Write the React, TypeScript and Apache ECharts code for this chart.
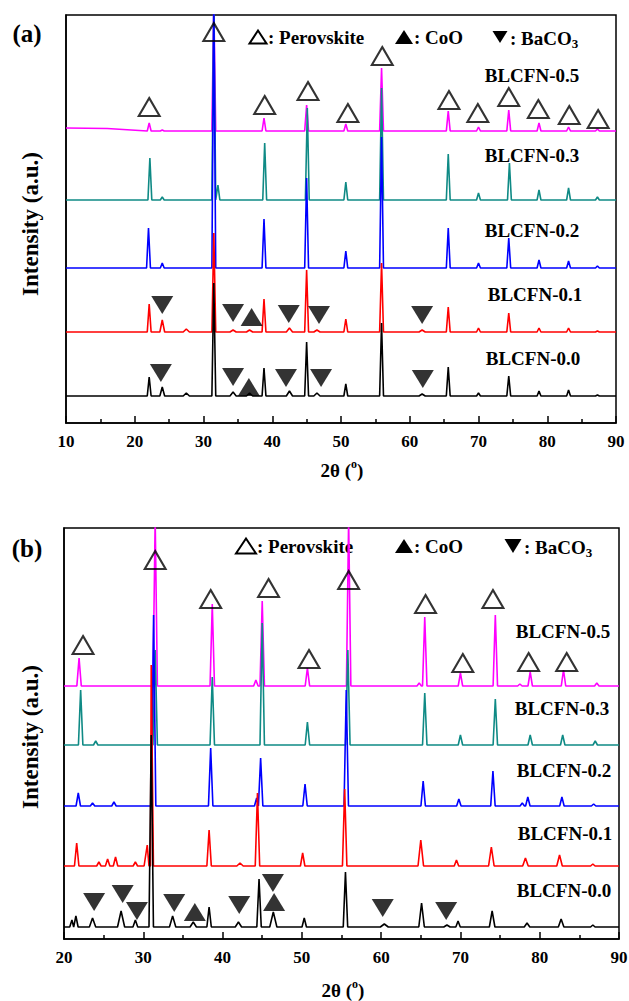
import React, { useEffect, useRef } from "react";
import * as echarts from "echarts";

// ---------- data (2θ in degrees, intensity in arbitrary units) ----------
const SAMPLES = ["BLCFN-0.5", "BLCFN-0.3", "BLCFN-0.2", "BLCFN-0.1", "BLCFN-0.0"];
const X_TICKS_A = [10, 20, 30, 40, 50, 60, 70, 80, 90];
const X_TICKS_B = [20, 30, 40, 50, 60, 70, 80, 90];

// panel (a): baseline levels and [2θ, peak intensity, half width?]
const A_BASE = [292, 223, 155, 91, 27];
const A_BG_05 = [[10, 295], [16, 294.5], [30, 292], [90, 292]];
const A_PEAKS_05 = [[22.1, 300], [24.0, 293], [31.5, 420], [38.8, 305], [45.0, 318], [50.7, 299], [55.9, 355], [65.6, 312], [70.0, 296], [74.4, 313], [78.8, 300], [83.1, 296], [87.3, 294]];
const A_PEAKS_03 = [[22.2, 265], [24.0, 226], [31.5, 420], [32.1, 238], [38.9, 280], [45.1, 315], [50.7, 241], [55.9, 335], [65.6, 269], [70.0, 230], [74.5, 260], [78.8, 233], [83.1, 235], [87.3, 226]];
const A_PEAKS_02 = [[22.0, 195], [24.0, 160], [31.5, 420], [38.8, 204], [45.0, 245], [50.7, 172], [55.9, 286], [65.6, 195], [70.0, 160], [74.4, 185], [78.8, 163], [83.1, 162], [87.3, 157]];
const A_PEAKS_01 = [[22.1, 119], [24.0, 103, 0.35], [27.5, 94, 0.45], [31.5, 190], [34.3, 93, 0.45], [36.7, 93, 0.45], [38.8, 124], [42.5, 95, 0.45], [45.0, 153], [46.5, 93, 0.45], [50.7, 104], [55.9, 160], [61.8, 93, 0.45], [65.6, 116], [70.0, 95], [74.4, 110], [78.8, 95], [83.1, 95], [87.3, 92]];
const A_PEAKS_00 = [[22.1, 46], [24.0, 36, 0.35], [27.5, 30, 0.45], [31.5, 140], [34.3, 31, 0.45], [36.7, 30, 0.45], [38.8, 55], [42.5, 32, 0.45], [45.0, 81], [46.5, 30, 0.45], [50.7, 39], [55.9, 100], [61.8, 29, 0.45], [65.6, 56], [70.0, 30], [74.4, 47], [78.8, 32], [83.1, 33], [87.3, 28]];

// panel (b)
const B_BASE = [253, 194, 133, 73, 12];
const B_PEAKS_05 = [[21.9, 281], [31.5, 420], [38.7, 335], [44.2, 259], [45.0, 338], [50.7, 271], [55.9, 420], [64.8, 256], [65.5, 322], [70.0, 266], [74.4, 324], [77.5, 255], [78.8, 267], [83.0, 269], [87.2, 256]];
const B_PEAKS_03 = [[22.1, 249], [24.0, 198], [31.5, 289], [38.7, 262], [45.0, 316], [50.7, 217], [55.8, 289], [65.5, 246], [70.0, 204], [74.4, 240], [78.8, 204], [82.9, 204], [87.0, 198]];
const B_PEAKS_02 = [[21.8, 146], [23.6, 136], [26.3, 137], [31.3, 324], [38.5, 191], [44.3, 141], [44.8, 181], [50.4, 155], [55.6, 249], [65.3, 158], [69.8, 140], [74.1, 168], [77.8, 136], [78.5, 142], [82.8, 142], [86.8, 135]];
const B_PEAKS_01 = [[21.6, 96], [24.4, 77], [25.5, 80], [26.5, 82], [29.0, 77], [30.5, 94, 0.4], [31.0, 274], [38.3, 109], [42.2, 76, 0.4], [44.4, 146], [50.1, 86], [55.4, 150], [65.0, 99, 0.35], [69.5, 79], [73.9, 92, 0.35], [78.2, 81, 0.35], [82.5, 84, 0.35], [86.7, 75]];
const B_PEAKS_00 = [[21.0, 19], [21.5, 23], [23.6, 21, 0.4], [27.2, 28, 0.45], [29.0, 19, 0.3], [31.0, 204], [33.7, 23, 0.4], [36.3, 17, 0.4], [38.3, 32], [42.0, 17, 0.4], [44.6, 60], [46.4, 27, 0.45], [50.3, 21], [55.5, 67], [60.4, 15, 0.5], [65.1, 36, 0.35], [68.3, 14, 0.4], [69.7, 18], [74.0, 28, 0.35], [78.4, 16, 0.35], [82.7, 20, 0.35], [86.7, 14]];

// phase markers [2θ, intensity]
const A_PEROV = [[22.1, 316], [31.5, 391], [38.9, 318], [45.2, 332], [51.0, 310], [56.0, 367], [65.7, 323], [69.9, 310], [74.4, 326], [78.7, 314], [83.2, 308], [87.4, 304]];
const A_BACO3 = [[24.0, 118], [34.3, 110], [42.4, 109], [46.8, 108], [61.8, 108], [23.8, 50], [34.3, 46], [42.0, 45], [47.1, 45], [61.9, 44]];
const A_COO = [[37.0, 106], [36.6, 36]];
const B_PEROV = [[22.4, 294], [31.5, 379], [38.5, 340], [45.8, 351], [50.9, 280], [55.9, 359], [65.6, 335], [70.3, 276], [74.1, 340], [78.6, 277], [83.4, 277]];
const B_BACO3 = [[23.8, 37], [27.4, 45], [29.2, 28], [33.9, 36], [42.1, 34], [46.35, 56], [60.2, 31], [68.2, 28]];
const B_COO = [[36.5, 27], [46.5, 37]];

// ---------- styles ----------
const COLORS = ["#ff00ff", "#0f8a85", "#0000ff", "#ff0000", "#000000"];
const FONT = "'Liberation Serif', 'Times New Roman', serif";
const HW = 0.28;

function buildLine(base: number, bg: number[][] | null, peaks: number[][], x0: number, x1: number) {
  const pts: number[][] = bg ? bg.map((p) => [p[0], p[1]]) : [[x0, base], [x1, base]];
  peaks.forEach((p) => {
    const w = p[2] ?? HW;
    pts.push([p[0] - w, base], [p[0], p[1]], [p[0] + w, base]);
  });
  pts.sort((a, b) => a[0] - b[0]);
  return pts;
}

function tri(cx: number, cy: number, w: number, h: number, down: boolean, filled: boolean) {
  const pts = down
    ? [[cx - w / 2, cy - h / 2], [cx + w / 2, cy - h / 2], [cx, cy + h / 2]]
    : [[cx - w / 2, cy + h / 2], [cx + w / 2, cy + h / 2], [cx, cy - h / 2]];
  return {
    type: "polygon",
    shape: { points: pts },
    style: filled ? { fill: "#000" } : { fill: "none", stroke: "#000", lineWidth: 2 },
  };
}

function txt(x: number, y: number, text: string, size: number, align = "center", extra: any = {}) {
  return {
    type: "text",
    x,
    y,
    ...extra,
    style: { text, fill: "#000", fontSize: size, fontWeight: "bold", fontFamily: FONT, align, verticalAlign: "middle" },
  };
}

function richTxt(x: number, y: number, text: string, align: string, rich: any) {
  return { type: "text", x, y, style: { text, align, verticalAlign: "middle", rich } };
}

export default function App() {
  const ref = useRef<HTMLDivElement>(null);
  useEffect(() => {
    if (!ref.current) return;
    const chart = echarts.init(ref.current, null, { renderer: "svg" });

    const axisCommon = (min: number, grid: number) => ({
      type: "value",
      gridIndex: grid,
      min,
      max: 90,
      interval: 10,
      axisLine: { show: true, lineStyle: { color: "#000", width: 1.5 } },
      axisTick: { show: true, inside: true, length: 7, lineStyle: { color: "#000", width: 1.5 } },
      minorTick: { show: true, splitNumber: 2, length: 4, lineStyle: { color: "#000", width: 1.5 } },
      splitLine: { show: false },
      axisLabel: { color: "#000", fontSize: 17, fontWeight: "bold", fontFamily: FONT, margin: 10 },
    });
    const yCommon = (max: number, grid: number) => ({
      type: "value",
      gridIndex: grid,
      min: 0,
      max,
      axisLine: { show: true, lineStyle: { color: "#000", width: 1.5 } },
      axisTick: { show: false },
      axisLabel: { show: false },
      splitLine: { show: false },
    });

    const aPeaks = [A_PEAKS_05, A_PEAKS_03, A_PEAKS_02, A_PEAKS_01, A_PEAKS_00];
    const bPeaks = [B_PEAKS_05, B_PEAKS_03, B_PEAKS_02, B_PEAKS_01, B_PEAKS_00];
    const series: any[] = [];
    aPeaks.forEach((pk, i) => {
      series.push({
        type: "line",
        name: SAMPLES[i] + " a",
        xAxisIndex: 0,
        yAxisIndex: 0,
        showSymbol: false,
        data: buildLine(A_BASE[i], i === 0 ? A_BG_05 : null, pk, X_TICKS_A[0], 90),
        lineStyle: { color: COLORS[i], width: 1.6 },
        itemStyle: { color: COLORS[i] },
        z: 2 + i,
      });
    });
    bPeaks.forEach((pk, i) => {
      series.push({
        type: "line",
        name: SAMPLES[i] + " b",
        xAxisIndex: 1,
        yAxisIndex: 1,
        showSymbol: false,
        data: buildLine(B_BASE[i], null, pk, X_TICKS_B[0], 90),
        lineStyle: { color: COLORS[i], width: 1.6 },
        itemStyle: { color: COLORS[i] },
        z: 2 + i,
      });
    });
    const marker = (data: number[][], axis: number, kind: string) => ({
      type: "scatter",
      xAxisIndex: axis,
      yAxisIndex: axis,
      data,
      symbol: "triangle",
      symbolSize: kind === "perov" ? [21, 18] : [22, 18],
      symbolRotate: kind === "baco3" ? 180 : 0,
      itemStyle:
        kind === "perov"
          ? { color: "rgba(0,0,0,0)", borderColor: "#000", borderWidth: 2 }
          : { color: "#000" },
      z: 10,
      silent: true,
    });
    series.push(marker(A_PEROV, 0, "perov"), marker(A_BACO3, 0, "baco3"), marker(A_COO, 0, "coo"));
    series.push(marker(B_PEROV, 1, "perov"), marker(B_BACO3, 1, "baco3"), marker(B_COO, 1, "coo"));

    const main = { fontSize: 19, fontWeight: "bold", fontFamily: FONT, fill: "#000", lineHeight: 24 };
    const xTitle = (x: number, y: number) =>
      richTxt(x, y, "{a|2θ (}{b|o}{a|)}", "center", {
        a: main,
        b: { fontSize: 12, fontWeight: "bold", fontFamily: FONT, fill: "#000", lineHeight: 24, verticalAlign: "top" },
      });
    const baco3 = (x: number, y: number) =>
      richTxt(x, y, "{a|: BaCO}{s|3}", "left", {
        a: main,
        s: { fontSize: 13, fontWeight: "bold", fontFamily: FONT, fill: "#000", lineHeight: 24, verticalAlign: "bottom" },
      });

    const graphic: any[] = [
      txt(27, 33, "(a)", 25),
      txt(27, 548, "(b)", 25),
      txt(30, 224, "Intensity (a.u.)", 23, "center", { rotation: Math.PI / 2 }),
      txt(30, 737, "Intensity (a.u.)", 23, "center", { rotation: Math.PI / 2 }),
      xTitle(342, 470),
      xTitle(343, 990),
      // legend (a)
      tri(258, 37, 17, 13, false, false),
      txt(268, 37, ": Perovskite", 19, "left"),
      tri(404, 37, 18, 14, false, true),
      txt(414, 37, ": CoO", 19, "left"),
      tri(500, 37, 15, 12, true, true),
      baco3(510, 38),
      // legend (b)
      tri(246, 546, 20, 15, false, false),
      txt(257, 546, ": Perovskite", 19, "left"),
      tri(404, 546, 18, 14, false, true),
      txt(414, 546, ": CoO", 19, "left"),
      tri(513, 546, 17, 14, true, true),
      baco3(524, 547),
      // sample labels (a)
      txt(532, 75, SAMPLES[0], 19),
      txt(532, 155, SAMPLES[1], 19),
      txt(532, 230, SAMPLES[2], 19),
      txt(535, 294, SAMPLES[3], 19),
      txt(533, 358, SAMPLES[4], 19),
      // sample labels (b)
      txt(563, 631, SAMPLES[0], 19),
      txt(562, 708, SAMPLES[1], 19),
      txt(564, 770, SAMPLES[2], 19),
      txt(565, 833, SAMPLES[3], 19),
      txt(564, 890, SAMPLES[4], 19),
    ];

    chart.setOption({
      animation: false,
      backgroundColor: "#fff",
      grid: [
        { left: 66, top: 15, width: 550, height: 408, show: true, borderColor: "#000", borderWidth: 1.5, outerBoundsMode: "none" },
        { left: 64, top: 528, width: 555, height: 411, show: true, borderColor: "#000", borderWidth: 1.5, outerBoundsMode: "none" },
      ],
      xAxis: [axisCommon(X_TICKS_A[0], 0), axisCommon(X_TICKS_B[0], 1)],
      yAxis: [yCommon(408, 0), yCommon(411, 1)],
      series,
      graphic,
    });
    return () => chart.dispose();
  }, []);
  return (
    <div
      ref={ref}
      style={{ position: "fixed", left: 0, top: 0, width: 629, height: 1001, background: "#fff" }}
    />
  );
}
